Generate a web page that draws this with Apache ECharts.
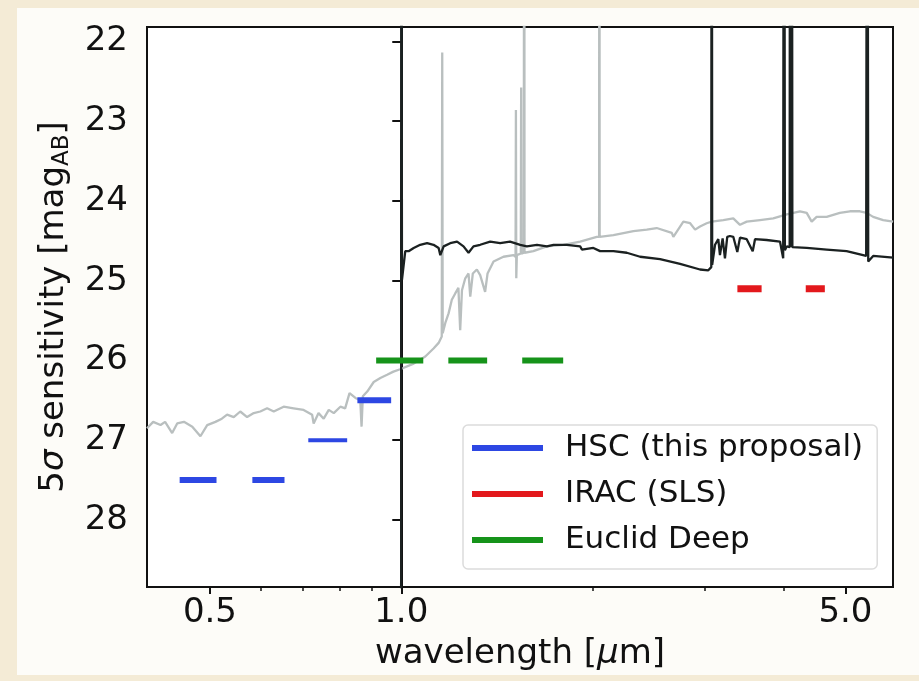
<!DOCTYPE html>
<html>
<head>
<meta charset="utf-8">
<script src="https://cdn.jsdelivr.net/npm/echarts@6/dist/echarts.min.js"></script>
<style>
  body { margin: 0; }
  #wrap { position: relative; width: 919px; height: 681px; background: #f4ebd6; }
  #panel { position: absolute; left: 17px; top: 8px; width: 902px; height: 667px; background: #fdfcf8; }
  #main { position: absolute; left: 0; top: 0; width: 919px; height: 681px; }
</style>
</head>
<body>
<div id="wrap"><div id="panel"></div><div id="main"></div></div>
<script>
// survey depths: [start, end] wavelength in micron, and 5 sigma depth
var hscWave = [[0.448, 0.512], [0.583, 0.655], [0.714, 0.822], [0.853, 0.964]];
var hscDepth = [27.5, 27.5, 27.0, 26.5];
var iracWave = [[3.38, 3.69], [4.33, 4.64]];
var iracDepth = [25.1, 25.1];
var euclidWave = [[0.913, 1.083], [1.186, 1.365], [1.55, 1.798]];
var euclidDepth = [26.0, 26.0, 26.0];

// model spectra [wavelength, mag]
var darkSpec = [[0.999, 40], [1.0, 15], [1.0025, 24.99], [1.0146, 24.63], [1.027, 24.63], [1.046, 24.59], [1.071, 24.55],
  [1.098, 24.53], [1.124, 24.55], [1.145, 24.59], [1.152, 24.68], [1.166, 24.57], [1.194, 24.53], [1.224, 24.51],
  [1.253, 24.57], [1.276, 24.65], [1.299, 24.57], [1.331, 24.55], [1.380, 24.51], [1.431, 24.53], [1.483, 24.51],
  [1.539, 24.55], [1.576, 24.57], [1.635, 24.55], [1.695, 24.57], [1.736, 24.55], [1.822, 24.55], [1.912, 24.57],
  [1.924, 24.61], [2.006, 24.59], [2.055, 24.63], [2.157, 24.63], [2.264, 24.65], [2.376, 24.70], [2.554, 24.73],
  [2.746, 24.79], [2.952, 24.86], [3.042, 24.87], [3.075, 24.83], [3.080, 15], [3.085, 24.80], [3.117, 24.55],
  [3.154, 24.48], [3.173, 24.68], [3.204, 24.47], [3.231, 24.72], [3.258, 24.45], [3.290, 24.44], [3.330, 24.45],
  [3.379, 24.64], [3.412, 24.46], [3.496, 24.48], [3.573, 24.63], [3.603, 24.48], [3.758, 24.49], [3.944, 24.51],
  [3.990, 24.72], [4.002, 15], [4.015, 24.62], [4.042, 24.57], [4.085, 24.58], [4.090, 15], [4.100, 24.58],
  [4.116, 15], [4.125, 24.58], [4.140, 24.58], [4.345, 24.59], [4.671, 24.61], [5.021, 24.63], [5.390, 24.69],
  [5.410, 15], [5.430, 24.76], [5.528, 24.69], [5.943, 24.71]];
var greySpec = [[0.398, 26.85], [0.407, 26.77], [0.418, 26.81], [0.425, 26.77], [0.436, 26.91], [0.444, 26.79],
  [0.455, 26.77], [0.469, 26.83], [0.483, 26.95], [0.495, 26.81], [0.510, 26.77], [0.522, 26.73], [0.532, 26.68],
  [0.545, 26.71], [0.558, 26.64], [0.572, 26.71], [0.586, 26.66], [0.600, 26.64], [0.615, 26.60], [0.630, 26.64],
  [0.653, 26.58], [0.677, 26.60], [0.702, 26.62], [0.724, 26.68], [0.728, 26.79], [0.741, 26.66], [0.755, 26.73],
  [0.769, 26.62], [0.783, 26.66], [0.802, 26.58], [0.816, 26.60], [0.829, 26.41], [0.847, 26.47], [0.862, 26.50],
  [0.866, 26.83], [0.870, 26.45], [0.884, 26.39], [0.905, 26.27], [0.927, 26.22], [0.950, 26.18], [0.972, 26.14],
  [0.996, 26.11], [1.046, 26.04], [1.091, 25.95], [1.124, 25.85], [1.145, 25.78], [1.158, 25.70], [1.160, 22.14],
  [1.162, 25.66], [1.173, 25.53], [1.187, 25.41], [1.201, 25.24], [1.216, 25.16], [1.230, 25.09], [1.238, 25.62],
  [1.246, 25.12], [1.261, 24.97], [1.276, 24.91], [1.284, 25.20], [1.296, 24.91], [1.315, 24.86], [1.331, 24.93],
  [1.355, 25.14], [1.367, 24.91], [1.397, 24.76], [1.448, 24.70], [1.502, 24.68], [1.513, 24.70], [1.515, 22.86],
  [1.517, 24.97], [1.520, 24.68], [1.542, 24.66], [1.544, 22.58], [1.546, 24.66], [1.559, 24.65], [1.561, 15],
  [1.563, 24.65], [1.614, 24.63], [1.694, 24.57], [1.800, 24.55], [1.912, 24.51], [2.031, 24.45], [2.048, 24.45],
  [2.050, 15], [2.052, 24.45], [2.157, 24.43], [2.319, 24.38], [2.434, 24.36], [2.523, 24.34], [2.665, 24.40],
  [2.680, 24.45], [2.779, 24.26], [2.848, 24.28], [2.900, 24.36], [2.952, 24.32], [3.024, 24.28], [3.080, 24.26],
  [3.212, 24.24], [3.330, 24.22], [3.412, 24.30], [3.496, 24.26], [3.668, 24.24], [3.849, 24.22], [4.042, 24.17],
  [4.241, 24.13], [4.345, 24.15], [4.424, 24.26], [4.504, 24.20], [4.671, 24.20], [4.899, 24.15], [5.082, 24.13],
  [5.269, 24.13], [5.400, 24.15], [5.528, 24.20], [5.732, 24.24], [5.943, 24.26]];

var xLabelTicks = [0.5, 1.0, 5.0];
var xMinorTicks = [0.6, 0.7, 0.8, 0.9, 2, 3, 4];
var yTicks = [22, 23, 24, 25, 26, 27, 28];

var lg = function (w) { return Math.log10(w); };
var font = 'DejaVu Sans';
var ink = '#111111';

var chart = echarts.init(document.getElementById('main'));

function specSeries(spec, color, z) {
  return {
    type: 'line', showSymbol: false, silent: true, z: z,
    lineStyle: { color: color, width: 2.3 },
    data: spec.map(function (p) { return [lg(p[0]), p[1]]; })
  };
}

function depthSeries(name, waves, depths, color, width) {
  return waves.map(function (w, i) {
    return {
      name: name, type: 'line', showSymbol: false, z: 5,
      color: color,
      lineStyle: { color: color, width: width[i] },
      data: [[lg(w[0]), depths[i]], [lg(w[1]), depths[i]]]
    };
  });
}

var series = [specSeries(greySpec, '#b9bfbf', 2), specSeries(darkSpec, '#1b2121', 3)]
  .concat(depthSeries('HSC (this proposal)', hscWave, hscDepth, '#2d47e3', [6, 6, 4, 6]))
  .concat(depthSeries('IRAC (SLS)', iracWave, iracDepth, '#e3181c', [7, 7]))
  .concat(depthSeries('Euclid Deep', euclidWave, euclidDepth, '#16931a', [6, 6, 6]));

var option = {
  animation: false,
  grid: { left: 147, top: 27, right: 26, bottom: 94, show: true, backgroundColor: '#ffffff', borderColor: ink, borderWidth: 2 },
  legend: {
    data: ['HSC (this proposal)', 'IRAC (SLS)', 'Euclid Deep'],
    orient: 'vertical', left: 463, top: 425,
    icon: 'rect', itemWidth: 71, itemHeight: 6, itemGap: 10,
    padding: [5, 14, 11, 9],
    backgroundColor: 'rgba(255,255,255,0.9)', borderColor: '#dcdcdc', borderWidth: 1.5, borderRadius: 5,
    textStyle: { fontFamily: font, fontSize: 31, color: ink, lineHeight: 36, padding: [0, 0, 0, 17] }
  },
  xAxis: [{
    type: 'value', min: lg(0.398), max: lg(5.94),
    name: '{n|wavelength [}{i|μ}{n|m]}', nameLocation: 'middle', nameGap: 50,
    nameTextStyle: { rich: {
      n: { fontFamily: font, fontSize: 34, color: ink },
      i: { fontFamily: font, fontSize: 34, color: ink, fontStyle: 'italic' }
    } },
    axisLine: { lineStyle: { color: ink, width: 2 } },
    axisTick: { customValues: xLabelTicks.map(lg), length: 7, lineStyle: { color: ink, width: 2 } },
    axisLabel: {
      customValues: xLabelTicks.map(lg), margin: 9,
      fontFamily: font, fontSize: 34, color: ink,
      formatter: function (v) { return Math.pow(10, v).toFixed(1); }
    },
    splitLine: { show: false }
  }, {
    type: 'value', min: lg(0.398), max: lg(5.94), position: 'bottom',
    axisLine: { show: false },
    axisTick: { customValues: xMinorTicks.map(lg), length: 4, lineStyle: { color: ink, width: 1.5 } },
    axisLabel: { show: false },
    splitLine: { show: false }
  }],
  yAxis: {
    type: 'value', inverse: true, min: 21.82, max: 28.84,
    name: '{n|5}{i|σ}{n| sensitivity [mag}{s|AB}{n|]}', nameLocation: 'middle', nameGap: 69,
    nameTextStyle: { rich: {
      n: { fontFamily: font, fontSize: 34, color: ink, lineHeight: 40 },
      i: { fontFamily: font, fontSize: 34, color: ink, lineHeight: 40, fontStyle: 'italic' },
      s: { fontFamily: font, fontSize: 23, color: ink, lineHeight: 22, verticalAlign: 'bottom' }
    } },
    axisLine: { lineStyle: { color: ink, width: 2 } },
    axisTick: { customValues: yTicks, length: 9, lineStyle: { color: ink, width: 2 } },
    axisLabel: { customValues: yTicks, margin: 19, fontFamily: font, fontSize: 34, color: ink },
    splitLine: { show: false }
  },
  series: series
};

chart.setOption(option);
</script>
</body>
</html>
